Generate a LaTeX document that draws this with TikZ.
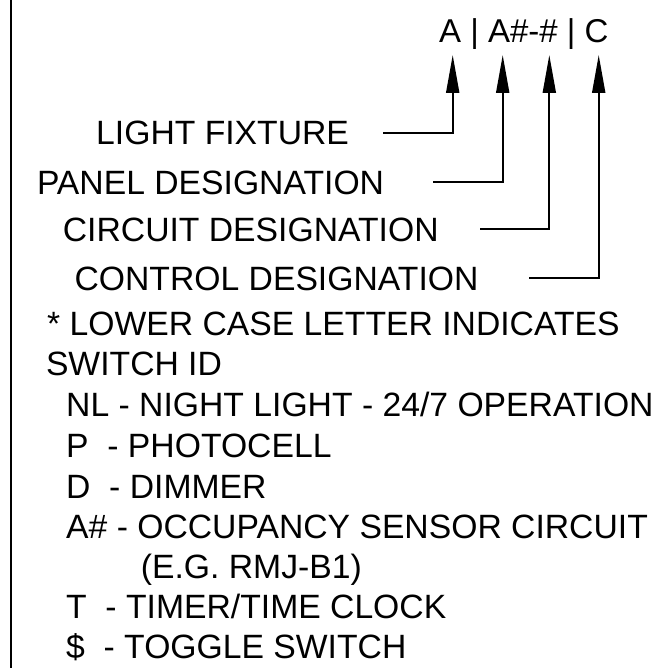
\documentclass[tikz,border=0pt]{standalone}
\usepackage{fontspec}
\setmainfont{Liberation Sans}
\usetikzlibrary{arrows.meta}
\begin{document}
\begin{tikzpicture}[x=1pt,y=-1pt,
  txt/.style={anchor=base west, inner sep=0pt, font=\fontsize{33.7}{36}\selectfont},
  toptxt/.style={anchor=base west, inner sep=0pt, font=\fontsize{33}{36}\selectfont},
  arr/.style={line width=2pt, -{Triangle[length=38pt,width=13pt]}},
  edge/.style={line width=2pt}]
\useasboundingbox (0,0) rectangle (658,668);
\draw[edge] (11,-2) -- (11,670);

\node[toptxt] (code) at (439,43) {A | A\#-\# | C};

\node[txt] (lf) at (96,145) {LIGHT FIXTURE};
\node[txt] (pd) at (36.8,194) {PANEL DESIGNATION};
\node[txt] (cd) at (62.7,241) {CIRCUIT DESIGNATION};
\node[txt] (ctl) at (74.4,290) {CONTROL DESIGNATION};

\node[txt] (note) at (47,335) {* LOWER CASE LETTER INDICATES};
\node[txt] (sw) at (45.8,375) {SWITCH ID};
\node[txt] (nl) at (66,416.5) {NL - NIGHT LIGHT - 24/7 OPERATION};
\node[txt] (p) at (66,457) {P\ \ - PHOTOCELL};
\node[txt] (d) at (66,498) {D\ \ - DIMMER};
\node[txt] (a) at (66,538) {A\# - OCCUPANCY SENSOR CIRCUIT};
\node[txt] (eg) at (140.7,578) {(E.G. RMJ-B1)};
\node[txt] (t) at (66,618) {T\ \ - TIMER/TIME CLOCK};
\node[txt] (s) at (66,658) {\$\ \ - TOGGLE SWITCH};

\coordinate (s1) at (383,133);
\coordinate (s2) at (433,181.7);
\coordinate (s3) at (480,229);
\coordinate (s4) at (529,278);
\coordinate (t1) at (452.7,55);
\coordinate (t2) at (502.7,55);
\coordinate (t3) at (549.3,55);
\coordinate (t4) at (598.7,55);

\draw[arr] (s1) -| (t1);
\draw[arr] (s2) -| (t2);
\draw[arr] (s3) -| (t3);
\draw[arr] (s4) -| (t4);
\end{tikzpicture}
\end{document}
